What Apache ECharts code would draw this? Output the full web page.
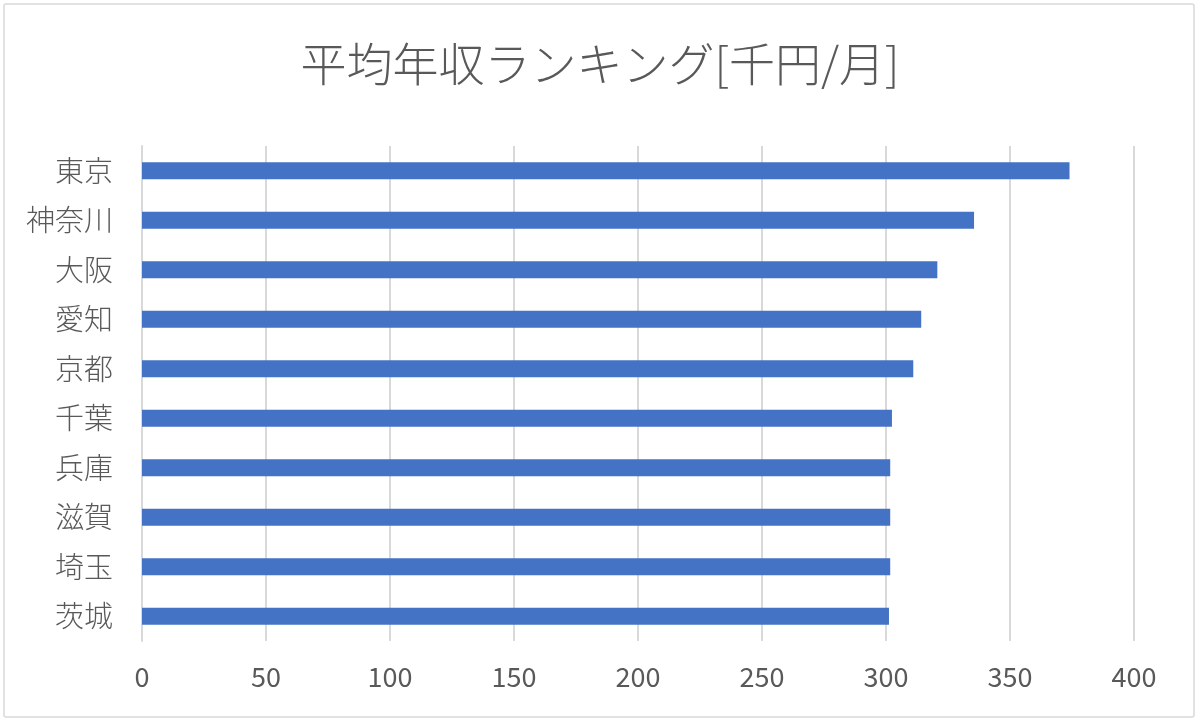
<!DOCTYPE html>
<html>
<head>
<meta charset="utf-8">
<script src="https://cdn.jsdelivr.net/npm/echarts@6/dist/echarts.min.js"></script>
<style>
  html, body { margin: 0; padding: 0; background: #fff; }
  #chart { width: 1200px; height: 724px; }
</style>
</head>
<body>
<div id="chart"></div>
<script>
// data
const prefectures = ['東京', '神奈川', '大阪', '愛知', '京都', '千葉', '兵庫', '滋賀', '埼玉', '茨城'];
const incomes = [374.0, 335.5, 320.7, 314.2, 311.0, 302.4, 301.7, 301.7, 301.7, 301.2];
const xTicks = [0, 50, 100, 150, 200, 250, 300, 350, 400];

const font = '"Noto Sans CJK JP", "Noto Sans", sans-serif';
const chart = echarts.init(document.getElementById('chart'));
chart.setOption({
  animation: false,
  title: {
    text: '平均年収ランキング[千円/月]',
    left: 'center',
    top: 36,
    textStyle: { color: '#595959', fontSize: 46, fontWeight: 300, fontFamily: font }
  },
  graphic: [{
    type: 'rect',
    shape: { x: 4, y: 4, width: 1190, height: 713, r: 2 },
    style: { fill: 'none', stroke: '#d9d9d9', lineWidth: 1.5 },
    silent: true
  }],
  grid: { left: 142, right: 66, top: 146, bottom: 83, containLabel: false },
  xAxis: {
    type: 'value',
    min: xTicks[0],
    max: xTicks[xTicks.length - 1],
    interval: 50,
    axisLine: { show: false },
    axisTick: { show: false },
    axisLabel: { color: '#595959', fontSize: 27, fontFamily: font, margin: 22 },
    splitLine: { show: true, lineStyle: { color: '#d9d9d9', width: 2 } }
  },
  yAxis: {
    type: 'category',
    inverse: true,
    data: prefectures,
    axisLine: { show: true, lineStyle: { color: '#d9d9d9', width: 2 } },
    axisTick: { show: false },
    axisLabel: { color: '#595959', fontSize: 29, fontFamily: font, fontWeight: 300, margin: 29 }
  },
  series: [{
    type: 'bar',
    data: incomes,
    barWidth: 17,
    itemStyle: { color: '#4472C4' }
  }]
});
</script>
</body>
</html>
